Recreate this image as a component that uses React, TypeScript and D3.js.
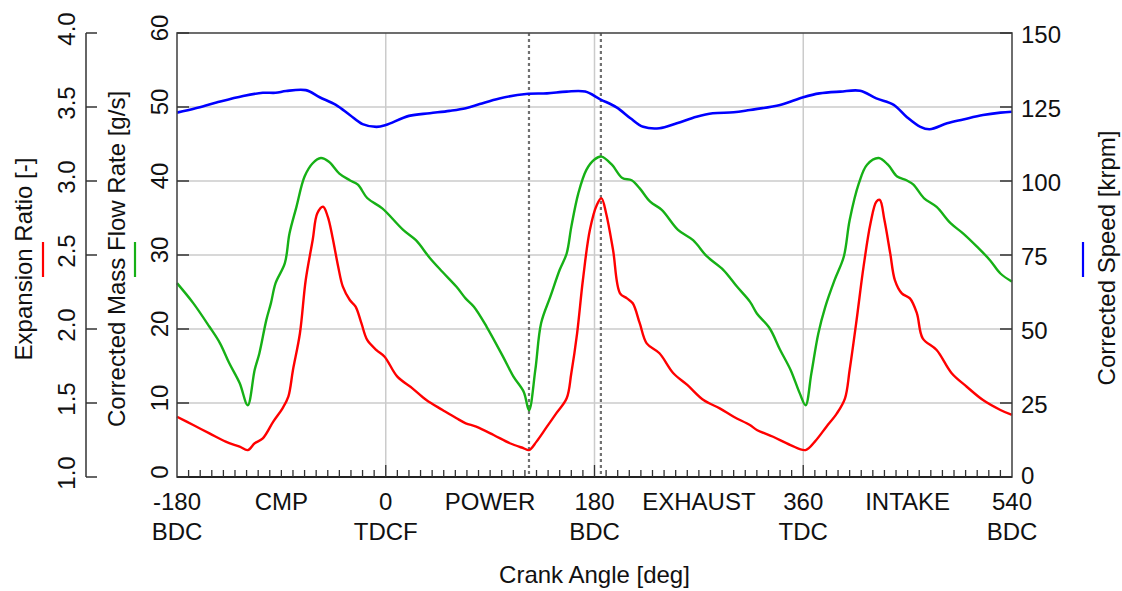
import * as d3 from "d3";

// crank angle [deg] and corrected mass flow rate [g/s]
const flowAngle = [-180, -166, -152, -143, -135, -126, -119, -113, -109, -103, -99, -95, -87, -83, -77, -70, -63, -56, -49, -40, -31, -24, -16, -3, 15, 26, 38, 49, 61, 69, 76, 87, 101, 110, 119, 123.5, 129, 134, 142, 150, 156, 160, 166, 173, 180, 186, 195, 204, 212, 219, 228, 238, 252, 265, 277, 291, 303, 314, 320, 331, 340, 349, 357, 362, 367, 373, 379, 387, 395, 400, 408, 415, 425, 433, 441, 449, 455, 464, 475, 487, 498, 510, 521, 530, 540];
const flowValue = [26.2, 23.5, 20.3, 18.1, 15.4, 12.7, 9.7, 14.5, 16.7, 21.2, 23.5, 26.2, 28.9, 32.9, 36.5, 40.6, 42.4, 43.1, 42.6, 41.0, 40.1, 39.5, 37.7, 36.3, 33.4, 32.0, 29.6, 27.7, 25.7, 24.1, 23.0, 20.3, 16.3, 13.6, 11.5, 9.0, 14.5, 20.8, 24.4, 28.0, 30.2, 33.8, 38.3, 41.5, 42.9, 43.3, 42.2, 40.4, 40.1, 39.0, 37.2, 36.1, 33.4, 32.0, 29.8, 28.0, 25.7, 23.7, 22.1, 20.1, 17.2, 14.5, 11.3, 9.7, 14.0, 19.4, 23.0, 26.6, 29.8, 34.7, 39.7, 42.2, 43.1, 42.2, 40.6, 40.1, 39.5, 37.7, 36.5, 34.3, 32.9, 31.1, 29.3, 27.5, 26.4];

// crank angle [deg] and expansion ratio [-]
const ratioAngle = [-180, -166, -152, -138, -126, -119, -113, -106, -97, -89, -84, -80, -74, -69, -63, -59, -54, -50, -46, -41, -37, -31, -26, -21, -16, -8, -1, 10, 23, 35, 49, 61, 69, 78, 93, 107, 119, 123.5, 130, 139, 147, 156, 160, 165, 170, 176, 182, 186, 190, 196, 202, 208, 213, 219, 225, 236, 248, 260, 274, 288, 300, 314, 320, 334, 349, 362, 370, 380, 389, 396, 400, 406, 412, 418, 423, 426, 430, 435, 439, 445, 452, 458, 463, 475, 488, 501, 515, 530, 540];
const ratioValue = [1.407, 1.351, 1.295, 1.239, 1.205, 1.182, 1.228, 1.261, 1.374, 1.464, 1.543, 1.723, 1.971, 2.331, 2.601, 2.782, 2.826, 2.759, 2.624, 2.421, 2.286, 2.196, 2.151, 2.039, 1.926, 1.858, 1.813, 1.678, 1.599, 1.52, 1.453, 1.397, 1.363, 1.34, 1.284, 1.228, 1.194, 1.182, 1.239, 1.34, 1.43, 1.532, 1.701, 1.971, 2.331, 2.669, 2.838, 2.883, 2.782, 2.534, 2.241, 2.207, 2.174, 2.039, 1.903, 1.836, 1.701, 1.622, 1.52, 1.464, 1.407, 1.351, 1.318, 1.272, 1.216, 1.182, 1.239, 1.34, 1.43, 1.532, 1.723, 2.061, 2.421, 2.714, 2.86, 2.872, 2.736, 2.511, 2.331, 2.241, 2.207, 2.106, 1.937, 1.858, 1.701, 1.61, 1.52, 1.453, 1.419];

// crank angle [deg] and corrected speed [krpm]
const speedAngle = [-180, -164, -146, -123, -106, -95, -86, -69, -57, -43, -31, -20, -8, 0, 20, 38, 55, 69, 81, 98, 121, 139, 156, 172, 185, 199, 211, 222, 236, 251, 268, 282, 300, 314, 340, 360, 374, 392, 409, 423, 438, 449, 461, 469, 484, 498, 515, 530, 540];
const speedValue = [123.1, 124.6, 126.5, 128.7, 129.8, 129.8, 130.4, 130.7, 128.3, 125.7, 122.3, 119.2, 118.3, 118.9, 122.0, 122.9, 123.7, 124.6, 126.0, 127.9, 129.4, 129.6, 130.2, 130.2, 127.6, 124.9, 121.2, 118.3, 117.8, 119.5, 121.7, 122.9, 123.2, 124.0, 125.7, 128.3, 129.6, 130.2, 130.5, 127.9, 125.7, 121.7, 118.3, 117.5, 119.5, 120.8, 122.3, 123.1, 123.4];

const angleTicks = [-180, 0, 180, 360, 540];
const deadCentres = ["BDC", "TDCF", "BDC", "TDC", "BDC"];
const strokeAngles = [-90, 90, 270, 450];
const strokeNames = ["CMP", "POWER", "EXHAUST", "INTAKE"];
const flowTicks = [0, 10, 20, 30, 40, 50, 60];
const ratioTicks = [1.0, 1.5, 2.0, 2.5, 3.0, 3.5, 4.0];
const speedTicks = [0, 25, 50, 75, 100, 125, 150];
const markerAngles = [123.5, 185.5];

const W = 1122;
const H = 591;
const left = 177;
const right = 1012;
const top = 33;
const bottom = 477;
const font = "'Liberation Sans', Arial, sans-serif";

export default function App() {
  const x = d3.scaleLinear().domain([-180, 540]).range([left, right]);
  const yFlow = d3.scaleLinear().domain([0, 60]).range([bottom, top]);
  const yRatio = d3.scaleLinear().domain([1, 4]).range([bottom, top]);
  const ySpeed = d3.scaleLinear().domain([0, 150]).range([bottom, top]);

  const curve = d3.curveCatmullRom.alpha(0.5);
  const flowLine = d3.line<number>().x((_, i) => x(flowAngle[i])).y(d => yFlow(d)).curve(curve);
  const ratioLine = d3.line<number>().x((_, i) => x(ratioAngle[i])).y(d => yRatio(d)).curve(curve);
  const speedLine = d3.line<number>().x((_, i) => x(speedAngle[i])).y(d => ySpeed(d)).curve(curve);

  const minor = d3.range(-170, 540, 10);

  return (
    <svg width={W} height={H} style={{ position: "absolute", left: 0, top: 0, background: "#fff" }} fontFamily={font}>
      {/* grid */}
      <g stroke="#cbcbcb" strokeWidth={1.5}>
        {flowTicks.slice(1, -1).map(t => (
          <line key={"h" + t} x1={left} x2={right} y1={yFlow(t)} y2={yFlow(t)} />
        ))}
        {angleTicks.slice(1, -1).map(t => (
          <line key={"v" + t} x1={x(t)} x2={x(t)} y1={top} y2={bottom} />
        ))}
      </g>

      {/* crank angle markers */}
      <g stroke="#707070" strokeWidth={2.2} strokeDasharray="3,3">
        {markerAngles.map(a => (
          <line key={a} x1={x(a)} x2={x(a)} y1={top} y2={bottom} />
        ))}
      </g>

      {/* curves */}
      <path d={speedLine(speedValue) || ""} fill="none" stroke="#0000ff" strokeWidth={2.6} />
      <path d={flowLine(flowValue) || ""} fill="none" stroke="#16b016" strokeWidth={2.4} />
      <path d={ratioLine(ratioValue) || ""} fill="none" stroke="#ff0000" strokeWidth={2.4} />

      {/* frame */}
      <rect x={left} y={top} width={right - left} height={bottom - top} fill="none" stroke="#4a4a4a" strokeWidth={1.6} />
      <line x1={left} x2={right} y1={bottom} y2={bottom} stroke="#222" strokeWidth={1.8} />

      {/* x ticks */}
      <g stroke="#333" strokeWidth={1.3}>
        {minor.map(t => (
          <line key={t} x1={x(t)} x2={x(t)} y1={bottom} y2={bottom - (t % 180 === 0 ? 12 : 7)} />
        ))}
      </g>
      <g fontSize={24} textAnchor="middle" fill="#111">
        {angleTicks.map((t, i) => (
          <g key={t}>
            <text x={x(t)} y={510}>{t}</text>
            <text x={x(t)} y={540}>{deadCentres[i]}</text>
          </g>
        ))}
        {strokeAngles.map((a, i) => (
          <text key={a} x={x(a)} y={510}>{strokeNames[i]}</text>
        ))}
        <text x={(left + right) / 2} y={583}>Crank Angle [deg]</text>
      </g>

      {/* mass flow axis (left of plot) */}
      <g stroke="#333" strokeWidth={1.5}>
        {flowTicks.map(t => (
          <line key={t} x1={left} x2={left + 12} y1={yFlow(t)} y2={yFlow(t)} />
        ))}
      </g>
      <g fontSize={24} textAnchor="middle" fill="#111">
        {flowTicks.map(t => (
          <text key={t} transform={`translate(168,${yFlow(t) - 5}) rotate(-90)`}>{t}</text>
        ))}
      </g>

      {/* expansion ratio axis */}
      <line x1={86} x2={86} y1={top} y2={bottom} stroke="#333" strokeWidth={1.5} />
      <g stroke="#333" strokeWidth={1.5}>
        {ratioTicks.map(t => (
          <line key={t} x1={86} x2={97} y1={yRatio(t)} y2={yRatio(t)} />
        ))}
      </g>
      <g fontSize={24} textAnchor="middle" fill="#111">
        {ratioTicks.map(t => (
          <text key={t} transform={`translate(75,${yRatio(t) - 4}) rotate(-90)`}>{t.toFixed(1)}</text>
        ))}
      </g>

      {/* speed axis (right) */}
      <g stroke="#333" strokeWidth={1.5}>
        {speedTicks.map(t => (
          <line key={t} x1={right - 12} x2={right} y1={ySpeed(t)} y2={ySpeed(t)} />
        ))}
      </g>
      <g fontSize={24} textAnchor="start" fill="#111">
        {speedTicks.map(t => (
          <text key={t} x={1021} y={ySpeed(t) + (t === 0 ? 7 : 10)}>{t}</text>
        ))}
      </g>

      {/* axis titles with colour keys */}
      <g fontSize={24} textAnchor="middle" fill="#111">
        <text transform="translate(32,259) rotate(-90)">Expansion Ratio [-]</text>
        <text transform="translate(125,259) rotate(-90)">Corrected Mass Flow Rate [g/s]</text>
        <text transform="translate(1115,258) rotate(-90)">Corrected Speed [krpm]</text>
      </g>
      <line x1={43} x2={43} y1={242} y2={277} stroke="#ff0000" strokeWidth={2.2} />
      <line x1={135} x2={135} y1={242} y2={277} stroke="#16b016" strokeWidth={2.2} />
      <line x1={1083} x2={1083} y1={242} y2={277} stroke="#0000ff" strokeWidth={2.2} />
    </svg>
  );
}
